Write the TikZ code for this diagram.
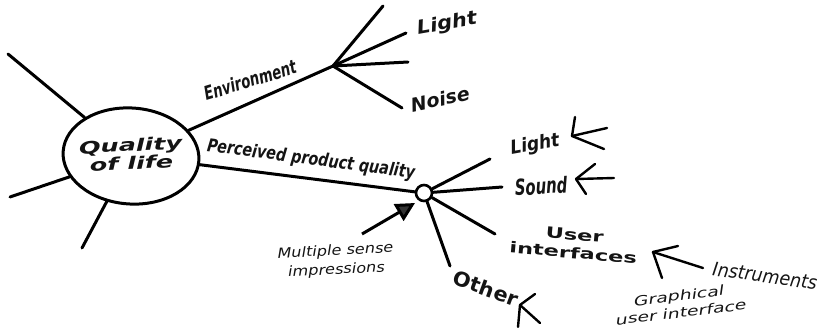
\documentclass[tikz,border=0pt]{standalone}
\usepackage{fontspec}
\setmainfont{DejaVu Sans}
\usetikzlibrary{arrows.meta,shapes.geometric}
\newcommand{\hsc}[2]{\scalebox{#1}[1]{#2}}
\begin{document}
\begin{tikzpicture}[x=1pt,y=-1pt,
  branch/.style={line width=3pt, line cap=round},
  twig/.style={line width=2.4pt, line cap=round},
  lab/.style={inner sep=0pt, text=black!92},
  bi/.style={font=\bfseries\itshape\fontsize{#1}{#1}\selectfont},
  ri/.style={font=\itshape\fontsize{#1}{#1}\selectfont},
  rb/.style={font=\bfseries\fontsize{#1}{#1}\selectfont},
]
\useasboundingbox (0,0) rectangle (827,327);

% central ellipse
\node[ellipse, draw, line width=3pt, minimum width=136pt, minimum height=96pt, inner sep=0pt, rotate=-4] (Q) at (131,156) {};
\node[lab, rotate=3, align=center, font=\bfseries\itshape\fontsize{17}{18}\selectfont] (Qt) at (131,154) {\hsc{1.5}{Quality}\\\hsc{1.5}{of life}};

% left spokes
\coordinate (l1) at (8,54);
\coordinate (l2) at (10,197);
\coordinate (l3) at (82,248);
\draw[branch] (Q) -- (l1);
\draw[branch] (Q) -- (l2);
\draw[branch] (Q) -- (l3);

% environment branch
\coordinate (E) at (333,66);
\draw[branch] (Q) -- (E);
\coordinate (e1) at (383,6);
\coordinate (e2) at (406,33);
\coordinate (e3) at (408,62);
\coordinate (e4) at (402,108);
\draw[branch] (E) -- (e1);
\draw[branch] (E) -- (e2);
\draw[branch] (E) -- (e3);
\draw[branch] (E) -- (e4);
\node[lab, bi=19, rotate=17] (env) at (250,80) {\hsc{0.7}{Environment}};
\node[lab, bi=19, rotate=10] (el) at (447,24) {\hsc{1.1}{Light}};
\node[lab, bi=19, rotate=12] (en) at (440,99) {\hsc{1.0}{Noise}};

% perceived product quality branch
\node[circle, draw, line width=2.6pt, minimum size=16pt, inner sep=0pt, fill=white] (P) at (424,193) {};
\draw[branch] (Q) -- (P);
\node[lab, bi=18, rotate=-7.5] (ppq) at (311,160) {\hsc{0.8}{Perceived product quality}};
\coordinate (p1) at (490,159);
\coordinate (p2) at (502,187);
\coordinate (p3) at (495,234);
\coordinate (p4) at (450,266);
\draw[branch] (P) -- (p1);
\draw[branch] (P) -- (p2);
\draw[branch] (P) -- (p3);
\draw[branch] (P) -- (p4);

% multiple sense impressions arrow
\coordinate (ms0) at (362,234);
\coordinate (ms1) at (415,203);
\draw[line width=3pt, -{Triangle[length=19pt,width=19pt,fill=black!80]}] (ms0) -- (ms1);
\node[lab, align=center, rotate=3, font=\itshape\fontsize{14}{19}\selectfont] (ms) at (336,261) {\hsc{1.15}{Multiple sense}\\\hsc{1.15}{impressions}};

% Light
\node[lab, bi=19, rotate=10] (pl) at (535,145) {\hsc{0.9}{Light}};
\coordinate (lv) at (572,136);
\coordinate (lv1) at (575,117);
\coordinate (lv2) at (607,128);
\coordinate (lv3) at (604,149);
\draw[twig] (lv) -- (lv1);
\draw[twig] (lv) -- (lv2);
\draw[twig] (lv) -- (lv3);

% Sound
\node[lab, bi=22, rotate=3] (ps) at (541,186) {\hsc{0.67}{Sound}};
\coordinate (sv) at (576,179);
\coordinate (sv1) at (595,164);
\coordinate (sv2) at (614,178);
\coordinate (sv3) at (586,194);
\draw[twig] (sv) -- (sv1);
\draw[twig] (sv) -- (sv2);
\draw[twig] (sv) -- (sv3);

% User interfaces
\node[lab, align=center, rotate=-5, font=\bfseries\fontsize{15}{18}\selectfont] (pu) at (574,244) {\hsc{1.5}{User}\\\hsc{1.5}{interfaces}};
\coordinate (uv) at (653,252);
\coordinate (uv1) at (678,246);
\coordinate (uv2) at (703,268);
\coordinate (uv3) at (662,278);
\draw[twig] (uv) -- (uv1);
\draw[twig] (uv) -- (uv2);
\draw[twig] (uv) -- (uv3);
\node[lab, ri=19, rotate=-8] (ins) at (765,276) {\hsc{0.92}{Instruments}};
\node[lab, align=center, rotate=7, font=\itshape\fontsize{13.5}{17}\selectfont] (gui) at (680,304) {\hsc{1.4}{Graphical}\\\hsc{1.4}{user interface}};

% Other
\node[lab, rb=20, rotate=-20] (po) at (486,288) {\hsc{1.05}{Other}};
\coordinate (ov) at (520,305);
\coordinate (ov1) at (535,294);
\coordinate (ov2) at (540,323);
\coordinate (ov3) at (518,327);
\draw[twig] (ov) -- (ov1);
\draw[twig] (ov) -- (ov2);
\draw[twig] (ov) -- (ov3);
\end{tikzpicture}
\end{document}
